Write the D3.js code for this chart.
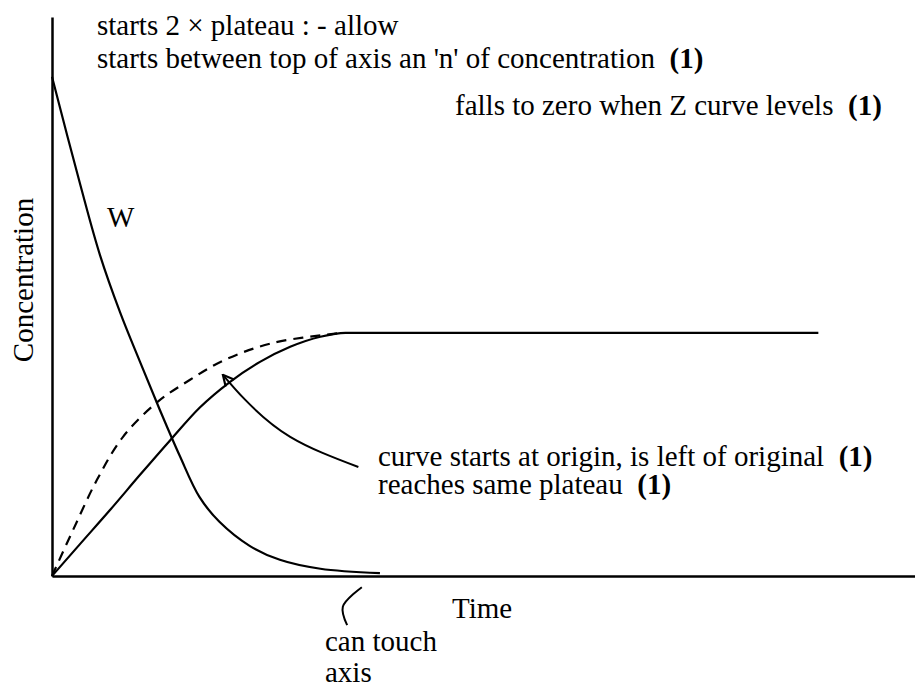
<!DOCTYPE html>
<html lang="en">
<head>
<meta charset="utf-8">
<title>Concentration vs time sketch</title>
<script src="https://d3js.org/d3.v7.min.js"></script>
<style>
  body { margin: 0; background: #fff; }
  text { font-family: "Liberation Serif", "Times New Roman", serif; font-size: 29px; fill: #000; white-space: pre; }
  .b { font-weight: bold; }
</style>
</head>
<body>
<svg id="chart" width="915" height="688"></svg>
<script>
// data, in chart units (time 0-100, concentration 0-100)
var wTime = [0, 3.24, 5.56, 7.88, 10.2, 12.5, 14.8, 17.1, 19.4, 22.9, 26.4, 31.1, 38.0];
var wConc = [89.3, 70.2, 57.4, 47.2, 38.3, 29.7, 21.5, 14.1, 9.7, 5.4, 2.9, 1.3, 0.5];

var zTime = [0, 3.24, 6.72, 10.2, 13.7, 17.1, 20.6, 24.1, 27.6, 31.1, 34.0, 88.8];
var zConc = [0, 5.7, 11.8, 18.1, 24.3, 30.1, 34.7, 38.3, 41.0, 42.8, 43.5, 43.5];

var newTime = [0, 2.43, 5.21, 8.23, 12.2, 16.0, 19.8, 25.6, 33.7];
var newConc = [0, 8.2, 17.2, 24.9, 31.1, 35.1, 38.5, 41.7, 43.5];

var arrowTime = [35.5, 27.6, 22.4, 19.8];
var arrowConc = [19.5, 24.9, 31.5, 36.0];

var bracketTime = [35.9, 33.7, 34.2];
var bracketConc = [-2.0, -5.5, -8.8];

var svg = d3.select("#chart");

var x = d3.scaleLinear().domain([0, 100]).range([52, 915]);
var y = d3.scaleLinear().domain([0, 100]).range([576, 17]);

var zip = function(a, b) { return a.map(function(v, i) { return [v, b[i]]; }); };

var line = d3.line()
    .x(function(d) { return x(d[0]); })
    .y(function(d) { return y(d[1]); })
    .curve(d3.curveMonotoneX);

var smooth = d3.line()
    .x(function(d) { return x(d[0]); })
    .y(function(d) { return y(d[1]); })
    .curve(d3.curveCatmullRom.alpha(0.5));

var natural = d3.line()
    .x(function(d) { return x(d[0]); })
    .y(function(d) { return y(d[1]); })
    .curve(d3.curveNatural);

// open arrow head
svg.append("defs").append("marker")
    .attr("id", "head")
    .attr("viewBox", "0 0 12 12")
    .attr("refX", 11).attr("refY", 6)
    .attr("markerWidth", 13).attr("markerHeight", 13)
    .attr("markerUnits", "userSpaceOnUse")
    .attr("orient", "auto")
  .append("path")
    .attr("d", "M1,1 L11,6 L1,11")
    .attr("fill", "none")
    .attr("stroke", "#000")
    .attr("stroke-width", 2);

// axes, no ticks
var xAxis = d3.axisBottom(x).tickValues([]).tickSizeOuter(0);
var yAxis = d3.axisLeft(y).tickValues([]).tickSizeOuter(0);

svg.append("g").attr("transform", "translate(0," + y(0) + ")").call(xAxis)
  .select(".domain").attr("stroke", "#000").attr("stroke-width", 2.5);
svg.append("g").attr("transform", "translate(" + x(0) + ",0)").call(yAxis)
  .select(".domain").attr("stroke", "#000").attr("stroke-width", 2.5);

// curves
svg.append("path").datum(zip(wTime, wConc))
    .attr("d", smooth).attr("fill", "none").attr("stroke", "#000").attr("stroke-width", 2.2);

svg.append("path").datum(zip(zTime, zConc))
    .attr("d", line).attr("fill", "none").attr("stroke", "#000").attr("stroke-width", 2.2);

svg.append("path").datum(zip(newTime, newConc))
    .attr("d", smooth).attr("fill", "none").attr("stroke", "#000").attr("stroke-width", 2.2)
    .attr("stroke-dasharray", "10,7");

svg.append("path").datum(zip(arrowTime, arrowConc))
    .attr("d", natural).attr("fill", "none").attr("stroke", "#000").attr("stroke-width", 2)
    .attr("marker-end", "url(#head)");

svg.append("path").datum(zip(bracketTime, bracketConc))
    .attr("d", smooth).attr("fill", "none").attr("stroke", "#000").attr("stroke-width", 2);

// labels
var label = function(tx, ty, parts) {
  var t = svg.append("text").attr("x", tx).attr("y", ty);
  parts.forEach(function(p) {
    t.append("tspan").attr("class", p[1] ? "b" : null).text(p[0]);
  });
  return t;
};

label(97, 35, [["starts 2 \u00d7 plateau : - allow"]]);
label(97, 68, [["starts between top of axis an 'n' of concentration  "], ["(1)", true]]);
label(455, 115, [["falls to zero when Z curve levels  "], ["(1)", true]]);
label(107, 227, [["W"]]);
label(378, 466, [["curve starts at origin, is left of original  "], ["(1)", true]]);
label(378, 494, [["reaches same plateau  "], ["(1)", true]]);
label(452, 618, [["Time"]]);
label(325, 651, [["can touch"]]);
label(325, 682, [["axis"]]);

svg.append("text")
    .attr("transform", "translate(33,280) rotate(-90)")
    .attr("text-anchor", "middle")
    .text("Concentration");
</script>
</body>
</html>
